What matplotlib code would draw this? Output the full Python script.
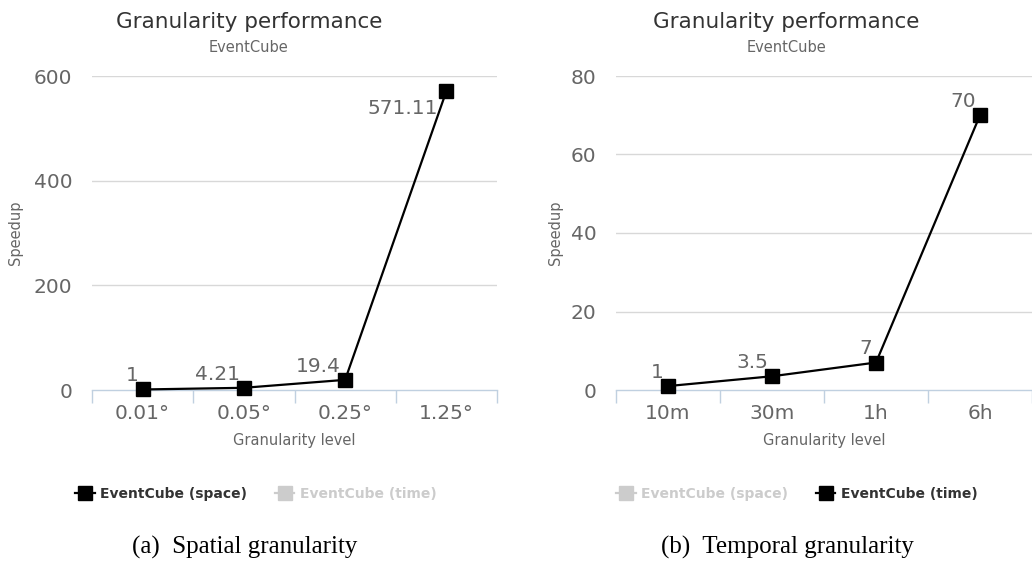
import matplotlib
matplotlib.use("Agg")

import matplotlib.pyplot as plt
from matplotlib.lines import Line2D

# datos
space_levels = ["0.01°", "0.05°", "0.25°", "1.25°"]
space_speedup = [1, 4.21, 19.4, 571.11]
space_labels = ["1", "4.21", "19.4", "571.11"]
space_yticks = [0, 200, 400, 600]

time_levels = ["10m", "30m", "1h", "6h"]
time_speedup = [1, 3.5, 7, 70]
time_labels = ["1", "3.5", "7", "70"]
time_yticks = [0, 20, 40, 60, 80]

series_names = ["EventCube (space)", "EventCube (time)"]

TEXT = "#333333"
LABEL = "#666666"
AXIS = "#c0d0e0"
GRID = "#d8d8d8"
OFF = "#cccccc"

plt.rcParams['font.family'] = ['DejaVu Sans']

W, H = 1032, 562
fig = plt.figure(figsize=(W / 100, H / 100), dpi=100)


def px_box(x0, x1, ytop, ybot):
    return [x0 / W, 1 - ybot / H, (x1 - x0) / W, (ybot - ytop) / H]


def draw_panel(box, levels, values, labels, yticks, active, title_x, ylabel_x,
               legend_x, caption_x, caption):
    ax = fig.add_axes(box)
    n = len(levels)
    xs = list(range(n))
    ax.plot(xs, values, color="black", lw=1.6, marker="s", ms=9.5,
            markeredgecolor="black", zorder=5, clip_on=False)

    ymax = yticks[-1]
    for x, v, lab in zip(xs, values, labels):
        if v > 0.9 * ymax:
            ax.annotate(lab, (x, v), xytext=(-6, -6), textcoords="offset points",
                        ha="right", va="top", fontsize=14.5, color=LABEL, zorder=4)
        else:
            ax.annotate(lab, (x, v), xytext=(-3, 3), textcoords="offset points",
                        ha="right", va="bottom", fontsize=14.5, color=LABEL, zorder=4)

    ax.set_xlim(-0.5, n - 0.5)
    ax.set_ylim(0, ymax)
    ax.set_yticks(yticks)
    for t in yticks[1:]:
        ax.axhline(t, color=GRID, lw=1, zorder=1)

    ax.set_xticks(xs)
    ax.set_xticklabels(levels)
    ax.set_xticks([i - 0.5 for i in range(n + 1)], minor=True)
    ax.tick_params(axis="x", which="major", length=0, labelsize=14.5,
                   labelcolor=LABEL, pad=10)
    ax.tick_params(axis="x", which="minor", length=9, color=AXIS, width=1)
    ax.tick_params(axis="y", length=0, labelsize=14.5, labelcolor=LABEL, pad=14)

    for s in ["top", "right", "left"]:
        ax.spines[s].set_visible(False)
    ax.spines["bottom"].set_color(AXIS)
    ax.spines["bottom"].set_linewidth(1)

    ax.set_xlabel("Granularity level", fontsize=10.5, color=LABEL, labelpad=7)

    fig.text(title_x / W, 1 - 22 / H, "Granularity performance", fontsize=15.5,
             color=TEXT, ha="center", va="center")
    fig.text(title_x / W, 1 - 48 / H, "EventCube", fontsize=10.5, color=LABEL,
             ha="center", va="center")
    fig.text(ylabel_x / W, 1 - 233 / H, "Speedup", fontsize=10.5, color=LABEL,
             ha="center", va="center", rotation=90)

    handles = []
    for i, name in enumerate(series_names):
        c = "black" if i == active else OFF
        handles.append(Line2D([0], [0], color=c, lw=1.6, marker="s", ms=9.5,
                              markeredgecolor=c))
    leg = ax.legend(handles, series_names, loc="center", ncol=2, frameon=False,
                    bbox_to_anchor=(legend_x / W, 1 - 494 / H),
                    bbox_transform=fig.transFigure, handlelength=1.4,
                    handletextpad=0.4, columnspacing=2.0,
                    prop={"size": 10, "weight": "bold"})
    for i, txt in enumerate(leg.get_texts()):
        txt.set_color(TEXT if i == active else OFF)

    fig.text(caption_x / W, 1 - 547 / H, caption, fontsize=18,
             family="Liberation Serif", ha="center", va="center", color="black")
    return ax


draw_panel(px_box(92, 497, 76, 390), space_levels, space_speedup, space_labels,
           space_yticks, 0, 249, 15, 256, 245, "(a)  Spatial granularity")
draw_panel(px_box(616, 1032, 76, 390), time_levels, time_speedup, time_labels,
           time_yticks, 1, 786, 556, 797, 787, "(b)  Temporal granularity")

fig.savefig("out.png", dpi=100)
